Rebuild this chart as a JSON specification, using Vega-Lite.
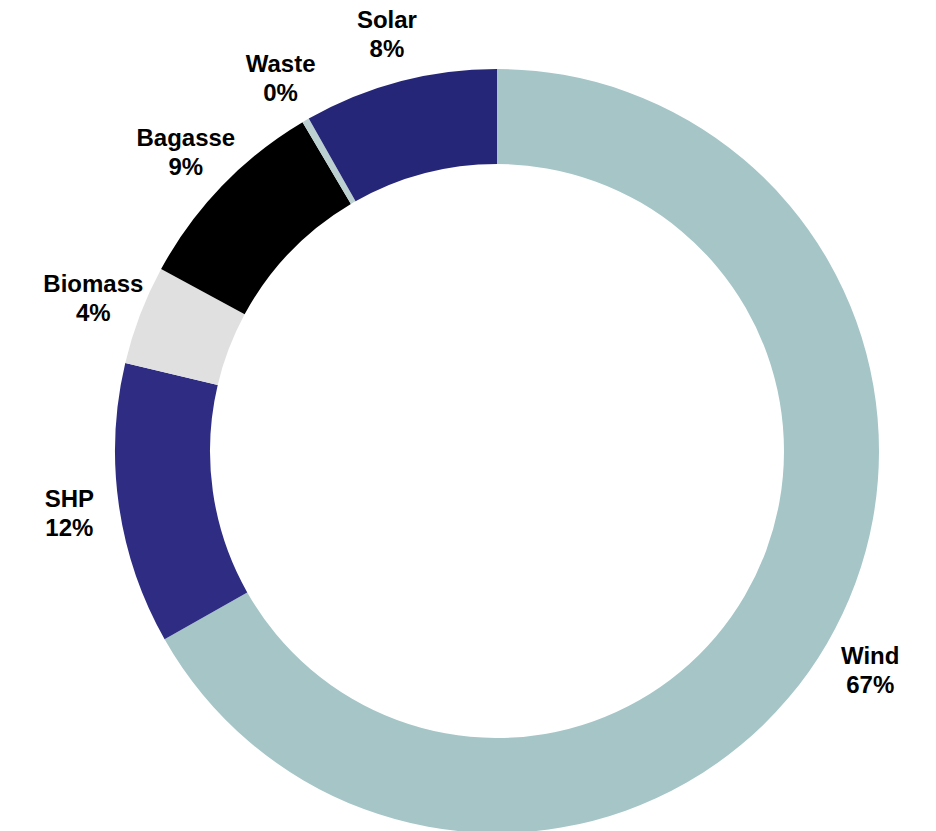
{
  "$schema": "https://vega.github.io/schema/vega-lite/v6.json",
  "width": 878,
  "height": 760,
  "autosize": {"type": "none"},
  "padding": {"left": 58, "top": 71, "right": 0, "bottom": 0},
  "background": "white",
  "view": {"stroke": null},
  "data": {
    "values": [
      {"rank": 1, "source": "Wind", "value": 66.8, "pct": "67%"},
      {"rank": 2, "source": "SHP", "value": 11.9, "pct": "12%"},
      {"rank": 3, "source": "Biomass", "value": 4.2, "pct": "4%"},
      {"rank": 4, "source": "Bagasse", "value": 8.6, "pct": "9%"},
      {"rank": 5, "source": "Waste", "value": 0.3, "pct": "0%"},
      {"rank": 6, "source": "Solar", "value": 8.2, "pct": "8%"}
    ]
  },
  "encoding": {
    "theta": {"field": "value", "type": "quantitative", "stack": true},
    "order": {"field": "rank", "type": "quantitative"}
  },
  "layer": [
    {
      "mark": {"type": "arc", "outerRadius": 382, "innerRadius": 287},
      "encoding": {
        "color": {
          "field": "source",
          "type": "nominal",
          "legend": null,
          "scale": {
            "domain": ["Wind", "SHP", "Biomass", "Bagasse", "Waste", "Solar"],
            "range": ["#a5c5c7", "#2e2d83", "#e0e0e0", "#000000", "#bcd0d1", "#262679"]
          }
        }
      }
    },
    {
      "mark": {"type": "text", "radius": 432, "font": "Liberation Sans", "fontWeight": "bold", "fontSize": 24, "dy": -12, "color": "#000000"},
      "encoding": {"text": {"field": "source"}}
    },
    {
      "mark": {"type": "text", "radius": 432, "font": "Liberation Sans", "fontWeight": "bold", "fontSize": 24, "dy": 17, "color": "#000000"},
      "encoding": {"text": {"field": "pct"}}
    }
  ]
}
